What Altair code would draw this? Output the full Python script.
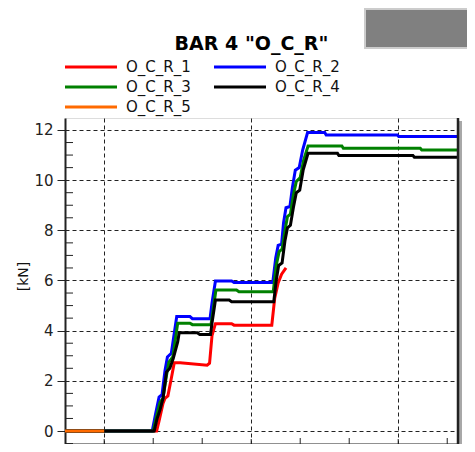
import altair as alt
import pandas as pd

FONT = "DejaVu Sans"

series_names = ["O_C_R_1", "O_C_R_2", "O_C_R_3", "O_C_R_4", "O_C_R_5"]
series_colors = ["#ff0000", "#0000ff", "#008000", "#000000", "#ff6a00"]

r1_x = [2.2, 4.07, 4.12, 4.2, 4.24, 4.3, 4.37, 4.43, 4.55, 5.1, 5.15, 5.2, 5.27, 5.6, 5.65, 6.42, 6.48, 6.55, 6.62, 6.71]
r1_y = [0, 0, 0.4, 1.1, 1.3, 1.4, 2.1, 2.72, 2.72, 2.62, 2.7, 3.8, 4.28, 4.28, 4.22, 4.22, 5.3, 5.9, 6.25, 6.5]

r2_x = [2.2, 3.98, 4.05, 4.12, 4.18, 4.24, 4.29, 4.37, 4.48, 4.75, 4.8, 5.16, 5.2, 5.27, 5.6, 5.65, 6.44, 6.5, 6.55,
        6.62, 6.66, 6.71, 6.79, 6.84, 6.9, 6.98, 7.05, 7.15, 7.5, 7.53, 8.98, 9.01, 10.22]
r2_y = [0, 0, 0.7, 1.35, 1.45, 2.4, 2.95, 3.1, 4.56, 4.56, 4.48, 4.48, 5.1, 5.98, 5.98, 5.92, 5.92, 6.9, 7.4,
        7.45, 8.3, 8.9, 8.95, 9.7, 10.4, 10.5, 11.2, 11.9, 11.9, 11.8, 11.8, 11.74, 11.74]

r3_x = [2.2, 4.0, 4.07, 4.14, 4.2, 4.27, 4.32, 4.4, 4.5, 4.75, 4.8, 5.18, 5.22, 5.28, 5.7, 5.75, 6.45, 6.51, 6.57,
        6.63, 6.69, 6.74, 6.8, 6.86, 6.92, 7.0, 7.07, 7.16, 7.85, 7.88, 9.45, 9.48, 10.22]
r3_y = [0, 0, 0.6, 1.15, 1.3, 2.2, 2.75, 2.95, 4.3, 4.3, 4.24, 4.24, 4.8, 5.62, 5.62, 5.55, 5.55, 6.6, 7.15,
        7.25, 8.0, 8.55, 8.65, 9.4, 9.95, 10.1, 10.8, 11.36, 11.36, 11.27, 11.27, 11.2, 11.2]

r4_x = [2.2, 4.02, 4.08, 4.14, 4.2, 4.27, 4.34, 4.41, 4.5, 4.53, 4.9, 4.95, 5.17, 5.2, 5.27, 5.55, 5.6, 6.46, 6.51,
        6.56, 6.63, 6.69, 6.74, 6.8, 6.86, 6.92, 6.99, 7.06, 7.16, 7.76, 7.79, 9.3, 9.33, 10.22]
r4_y = [0, 0, 0.5, 0.85, 1.3, 2.35, 2.5, 2.9, 3.55, 3.92, 3.92, 3.85, 3.85, 4.3, 5.22, 5.22, 5.15, 5.15, 6.0,
        6.6, 6.7, 7.6, 8.1, 8.2, 8.9, 9.5, 9.6, 10.4, 11.07, 11.07, 10.98, 10.98, 10.91, 10.91]

r5_x = [2.2, 3.0]
r5_y = [0, 0]

y_major = [0, 2, 4, 6, 8, 10, 12]
y_minor = [-0.5, 0.5, 1, 1.5, 2.5, 3, 3.5, 4.5, 5, 5.5, 6.5, 7, 7.5, 8.5, 9, 9.5, 10.5, 11, 11.5]
x_major = [3, 6, 9]
x_minor = [4, 5, 7, 8, 10]

rows = []
for name, xs, ys in zip(series_names, [r1_x, r2_x, r3_x, r4_x, r5_x], [r1_y, r2_y, r3_y, r4_y, r5_y]):
    for i, (xv, yv) in enumerate(zip(xs, ys)):
        rows.append({"series": name, "t": xv, "v": yv, "i": i})
df = pd.DataFrame(rows)

W, H = 393, 326
xscale = alt.Scale(domain=[2.2, 10.22], nice=False, zero=False)
yscale = alt.Scale(domain=[-0.518, 12.478], nice=False, zero=False)
one = alt.Data(values=[{}])
DARK = "#222222"

shadow_r = alt.Chart(one).mark_rect(color="#a8a8a8").encode(
    x=alt.value(W), x2=alt.value(W + 4), y=alt.value(3), y2=alt.value(H + 4))
gray_box = alt.Chart(one).mark_rect(color="#808080", stroke="#cccccc", strokeWidth=2).encode(
    x=alt.value(300), x2=alt.value(404), y=alt.value(-109), y2=alt.value(-70))

lines = alt.Chart(df).mark_line(strokeWidth=3).encode(
    x=alt.X("t:Q", scale=xscale,
            axis=alt.Axis(orient="bottom", values=x_major, labels=False, title=None, tickSize=5,
                          tickColor=DARK, domainColor=DARK, domainWidth=2, grid=True, gridColor=DARK,
                          gridDash=[4, 3], gridWidth=1)),
    y=alt.Y("v:Q", scale=yscale,
            axis=alt.Axis(orient="left", values=y_major, title="[kN]", titleFont=FONT, titleFontSize=14,
                          titleFontWeight="normal", titleColor="#111111", titleX=-35, titleY=158,
                          titleAlign="center", titleBaseline="bottom", titleAngle=270,
                          labelFont=FONT, labelFontSize=15, labelColor=DARK, labelPadding=4,
                          tickSize=8, tickColor=DARK, domainColor=DARK, domainWidth=2,
                          grid=True, gridColor=DARK, gridDash=[4, 3], gridWidth=1)),
    color=alt.Color("series:N", scale=alt.Scale(domain=series_names, range=series_colors),
                    legend=alt.Legend(orient="none", legendX=18, legendY=-59, columns=2,
                                      direction="horizontal", title=None,
                                      symbolType="M-4,0H4", symbolSize=169, symbolStrokeWidth=3,
                                      labelFont=FONT, labelFontSize=15, labelColor="#111111",
                                      labelOffset=27, columnPadding=17, rowPadding=4, labelLimit=200)),
    order="i:Q",
)

y_minor_ticks = alt.Chart(pd.DataFrame({"v": y_minor})).mark_rule(color=DARK, strokeWidth=1).encode(
    y=alt.Y("v:Q", scale=yscale, axis=None), x=alt.value(0), x2=alt.value(8))
x_minor_ticks = alt.Chart(pd.DataFrame({"t": x_minor})).mark_rule(color=DARK, strokeWidth=1).encode(
    x=alt.X("t:Q", scale=xscale, axis=None), y=alt.value(H), y2=alt.value(H - 6))
x_major_ticks = alt.Chart(pd.DataFrame({"t": x_major})).mark_rule(color=DARK, strokeWidth=1).encode(
    x=alt.X("t:Q", scale=xscale, axis=None), y=alt.value(H), y2=alt.value(H - 5))
right_edge = alt.Chart(one).mark_rule(color=DARK, strokeWidth=2.5).encode(
    x=alt.value(W), y=alt.value(0), y2=alt.value(H))

chart = alt.layer(
    shadow_r, gray_box, y_minor_ticks, x_minor_ticks, x_major_ticks, lines, right_edge
).resolve_axis(
    x="independent", y="independent"
).properties(
    width=W, height=H,
    padding={"left": 57, "top": 110, "right": 9, "bottom": 0},
    autosize=alt.AutoSizeParams(type="none"),
    title=alt.TitleParams(text='BAR 4 "O_C_R"', font=FONT, fontSize=19, fontWeight="bold",
                          color="#000000", anchor="middle", dx=-10, dy=50),
).configure_view(stroke=DARK, strokeWidth=1.5).configure(background="white")

chart.save("out.html", embed_options={"renderer": "svg", "actions": False})
